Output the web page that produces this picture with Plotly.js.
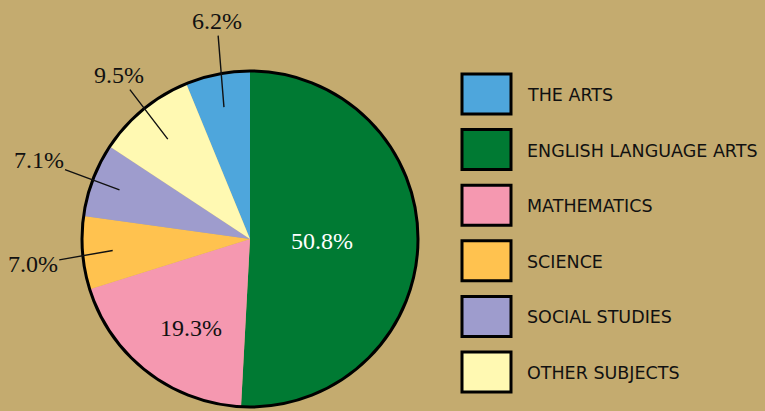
<!DOCTYPE html>
<html>
<head>
<meta charset="utf-8">
<script src="https://cdn.plot.ly/plotly-3.0.1.min.js"></script>
<style>
  html, body { margin: 0; padding: 0; background: #C4AB6F; }
  #chart { width: 765px; height: 411px; }
</style>
</head>
<body>
<div id="chart"></div>
<script>
// ---- data (legend order; drawn clockwise) ----
const subjects = ["THE ARTS", "ENGLISH LANGUAGE ARTS", "MATHEMATICS", "SCIENCE", "SOCIAL STUDIES", "OTHER SUBJECTS"];
const shares = [6.2, 50.8, 19.3, 7.0, 7.1, 9.5];
const percentLabels = ["6.2%", "50.8%", "19.3%", "7.0%", "7.1%", "9.5%"];
const sliceColors = ["#4EA6DC", "#007A33", "#F598B0", "#FFC24F", "#9E9CCD", "#FFF9B2"];

// ---- layout helpers ----
const W = 765, H = 411;
const cx = 250, cy = 239, R = 168;
// label placement (styling only): inside labels at a radius fraction; outside labels
// have an arrow head at a radius fraction and the text offset by (ox, oy) pixels.
const labelPlace = [
  {inside: false, head: 0.80, ox: -7,  oy: -86},
  {inside: true,  text: 0.43, dAng: 0, color: "#FFFFFF"},
  {inside: true,  text: 0.636, dAng: -4.3, color: "#111111"},
  {inside: false, head: 0.82, ox: -80, oy: 14},
  {inside: false, head: 0.83, ox: -81, oy: -30},
  {inside: false, head: 0.77, ox: -49, oy: -64}
];

const total = shares.reduce((a, b) => a + b, 0);
const rotation = -shares[0] / total * 360; // Arts ends at 12 o'clock

const domX = [(cx - R) / W, (cx + R) / W];
const domY = [(H - cy - R) / H, (H - cy + R) / H];

function px2paper(x, y) { return [x / W, (H - y) / H]; }

const pctFont = "Liberation Serif";
const annotations = [];
let acc = 0;
shares.forEach((v, i) => {
  const midDeg = rotation + (acc + v / 2) / total * 360;
  acc += v;
  const lp = labelPlace[i];
  const t = (midDeg + (lp.dAng || 0)) * Math.PI / 180;
  const dx = Math.sin(t), dy = -Math.cos(t);
  if (lp.inside) {
    const [x, y] = px2paper(cx + dx * lp.text * R, cy + dy * lp.text * R);
    annotations.push({
      x: x, y: y, xref: "paper", yref: "paper", showarrow: false,
      xanchor: "center", yanchor: "middle",
      text: percentLabels[i],
      font: {family: pctFont, size: 24, color: lp.color}
    });
  } else {
    const [hx, hy] = px2paper(cx + dx * lp.head * R, cy + dy * lp.head * R);
    annotations.push({
      x: hx, y: hy, xref: "paper", yref: "paper", showarrow: true,
      ax: lp.ox, ay: lp.oy,
      arrowhead: 0, arrowwidth: 1.4, arrowcolor: "#111111", standoff: 0, startstandoff: 0,
      text: percentLabels[i],
      font: {family: pctFont, size: 24, color: "#111111"}
    });
  }
});

// ---- custom legend ----
const shapes = [];
const legX0 = 462, legW = 49, legH = 40, legY0 = 74, legPitch = 55.6, legTextX = 525;
subjects.forEach((s, i) => {
  const top = legY0 + i * legPitch;
  const [x0, y1] = px2paper(legX0, top);
  const [x1, y0] = px2paper(legX0 + legW, top + legH);
  shapes.push({type: "rect", xref: "paper", yref: "paper", x0: x0, x1: x1, y0: y0, y1: y1,
               fillcolor: sliceColors[i], line: {color: "#000000", width: 3}});
  const [tx, ty] = px2paper(legTextX, top + legH / 2 + 1);
  annotations.push({x: tx, y: ty, xref: "paper", yref: "paper", showarrow: false,
                    xanchor: "left", yanchor: "middle", text: s,
                    font: {family: "DejaVu Sans", size: 17.5, color: "#111111"}});
});

// outer ring of the pie
shapes.push({type: "circle", xref: "paper", yref: "paper",
             x0: domX[0], x1: domX[1], y0: domY[0], y1: domY[1],
             line: {color: "#000000", width: 3}, layer: "above"});

const trace = {
  type: "pie",
  labels: subjects,
  values: shares,
  sort: false,
  direction: "clockwise",
  rotation: rotation,
  marker: {colors: sliceColors, line: {width: 0}},
  textinfo: "none",
  hoverinfo: "label+percent",
  showlegend: false,
  domain: {x: domX, y: domY}
};

const layout = {
  width: W, height: H,
  margin: {l: 0, r: 0, t: 0, b: 0},
  paper_bgcolor: "#C4AB6F",
  plot_bgcolor: "#C4AB6F",
  showlegend: false,
  annotations: annotations,
  shapes: shapes
};

Plotly.newPlot("chart", [trace], layout, {displayModeBar: false, staticPlot: true});
</script>
</body>
</html>
